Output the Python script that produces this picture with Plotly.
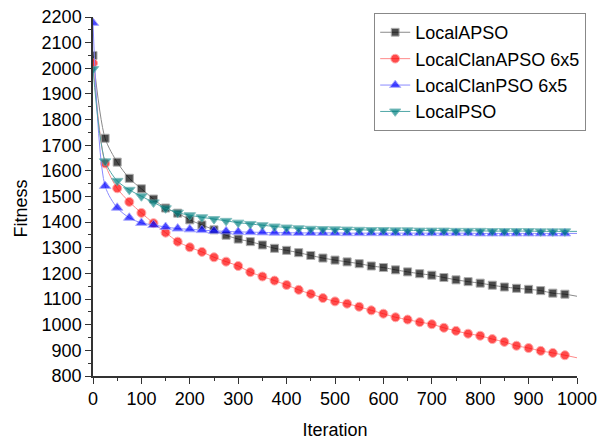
import plotly.graph_objects as go

iterations = [0, 25, 50, 75, 100, 125, 150, 175, 200, 225, 250, 275, 300, 325, 350, 375,
              400, 425, 450, 475, 500, 525, 550, 575, 600, 625, 650, 675, 700, 725, 750,
              775, 800, 825, 850, 875, 900, 925, 950, 975, 1000]

local_apso = [2050, 1727, 1634, 1571, 1530, 1490, 1455, 1435, 1409, 1389, 1370, 1349,
              1334, 1324, 1311, 1298, 1290, 1281, 1270, 1260, 1252, 1245, 1238, 1229,
              1223, 1214, 1206, 1199, 1193, 1184, 1175, 1168, 1162, 1154, 1147, 1142,
              1138, 1133, 1123, 1119, 1111]

local_clan_apso = [2020, 1629, 1532, 1479, 1436, 1396, 1359, 1324, 1302, 1284, 1263, 1246,
                   1229, 1205, 1188, 1172, 1155, 1136, 1120, 1104, 1091, 1082, 1070, 1056,
                   1043, 1029, 1020, 1010, 1002, 988, 976, 965, 957, 944, 933, 918, 909,
                   898, 890, 881, 871]

local_clan_pso = [2177, 1541, 1456, 1417, 1397, 1389, 1381, 1375, 1372, 1369, 1366, 1364,
                  1362, 1361, 1360, 1359, 1359, 1358, 1358, 1358, 1358, 1357, 1357, 1357,
                  1357, 1357, 1357, 1357, 1357, 1357, 1357, 1357, 1356, 1356, 1356, 1356,
                  1356, 1356, 1356, 1356, 1356]

local_pso = [1997, 1637, 1561, 1526, 1501, 1477, 1454, 1437, 1427, 1419, 1412, 1405,
             1398, 1393, 1388, 1383, 1379, 1376, 1374, 1373, 1372, 1371, 1370, 1369,
             1369, 1368, 1368, 1367, 1367, 1367, 1366, 1366, 1366, 1365, 1365, 1365,
             1365, 1364, 1364, 1364, 1364]

series_names = ["LocalAPSO", "LocalClanAPSO 6x5", "LocalClanPSO 6x5", "LocalPSO"]
series_values = [local_apso, local_clan_apso, local_clan_pso, local_pso]
marker_colors = ["#000000", "#ff0000", "#0000ff", "#008080"]
line_colors = ["#8a8a8a", "#ff8a8a", "#8a8aff", "#4fa6a6"]
symbols = ["square", "circle", "triangle-up", "triangle-down"]
sizes = [8, 9, 10, 10]

FONT = "Liberation Sans, Arial, sans-serif"
FS = 18

fig = go.Figure()
for name, vals, mc, lc, sym, sz in zip(series_names, series_values, marker_colors,
                                       line_colors, symbols, sizes):
    msize = [sz] * (len(iterations) - 1) + [0]
    fig.add_trace(go.Scatter(
        x=iterations, y=vals, name=name, mode="lines+markers",
        line=dict(color=lc, width=1, shape="spline", smoothing=0.8),
        marker=dict(symbol=sym, color=mc, size=msize),
        cliponaxis=True,
    ))

axis_common = dict(
    showline=True, linecolor="#333333", linewidth=1.5, mirror=False,
    showgrid=False, zeroline=False, ticks="outside", ticklen=6, tickwidth=1.2,
    tickcolor="#333333", tickfont=dict(family=FONT, size=FS, color="#000000"),
    automargin=False,
)

fig.update_layout(
    width=599, height=443,
    margin=dict(l=93, r=22, t=17, b=67),
    paper_bgcolor="white", plot_bgcolor="white",
    font=dict(family=FONT, size=FS, color="#000000"),
    xaxis=dict(range=[0, 1000], dtick=100, tick0=0,
               minor=dict(ticks="outside", ticklen=3, dtick=50, tickcolor="#333333"),
               title=dict(text="Iteration", font=dict(family=FONT, size=FS), standoff=15),
               **axis_common),
    yaxis=dict(range=[800, 2200], dtick=100, tick0=800,
               minor=dict(ticks="outside", ticklen=3, dtick=50, tickcolor="#333333"),
               **axis_common),
    legend=dict(x=1.019, y=1.011, xanchor="right", yanchor="top",
                bgcolor="white", bordercolor="#888888", borderwidth=1,
                font=dict(family=FONT, size=FS), itemwidth=30,
                tracegroupgap=0),
    showlegend=True,
    annotations=[dict(text="Fitness", xref="paper", yref="paper",
                      x=-0.149, y=0.466, xanchor="center", yanchor="middle",
                      textangle=-90, showarrow=False,
                      font=dict(family=FONT, size=FS, color="#000000"))],
)

fig.write_html("out.html")
